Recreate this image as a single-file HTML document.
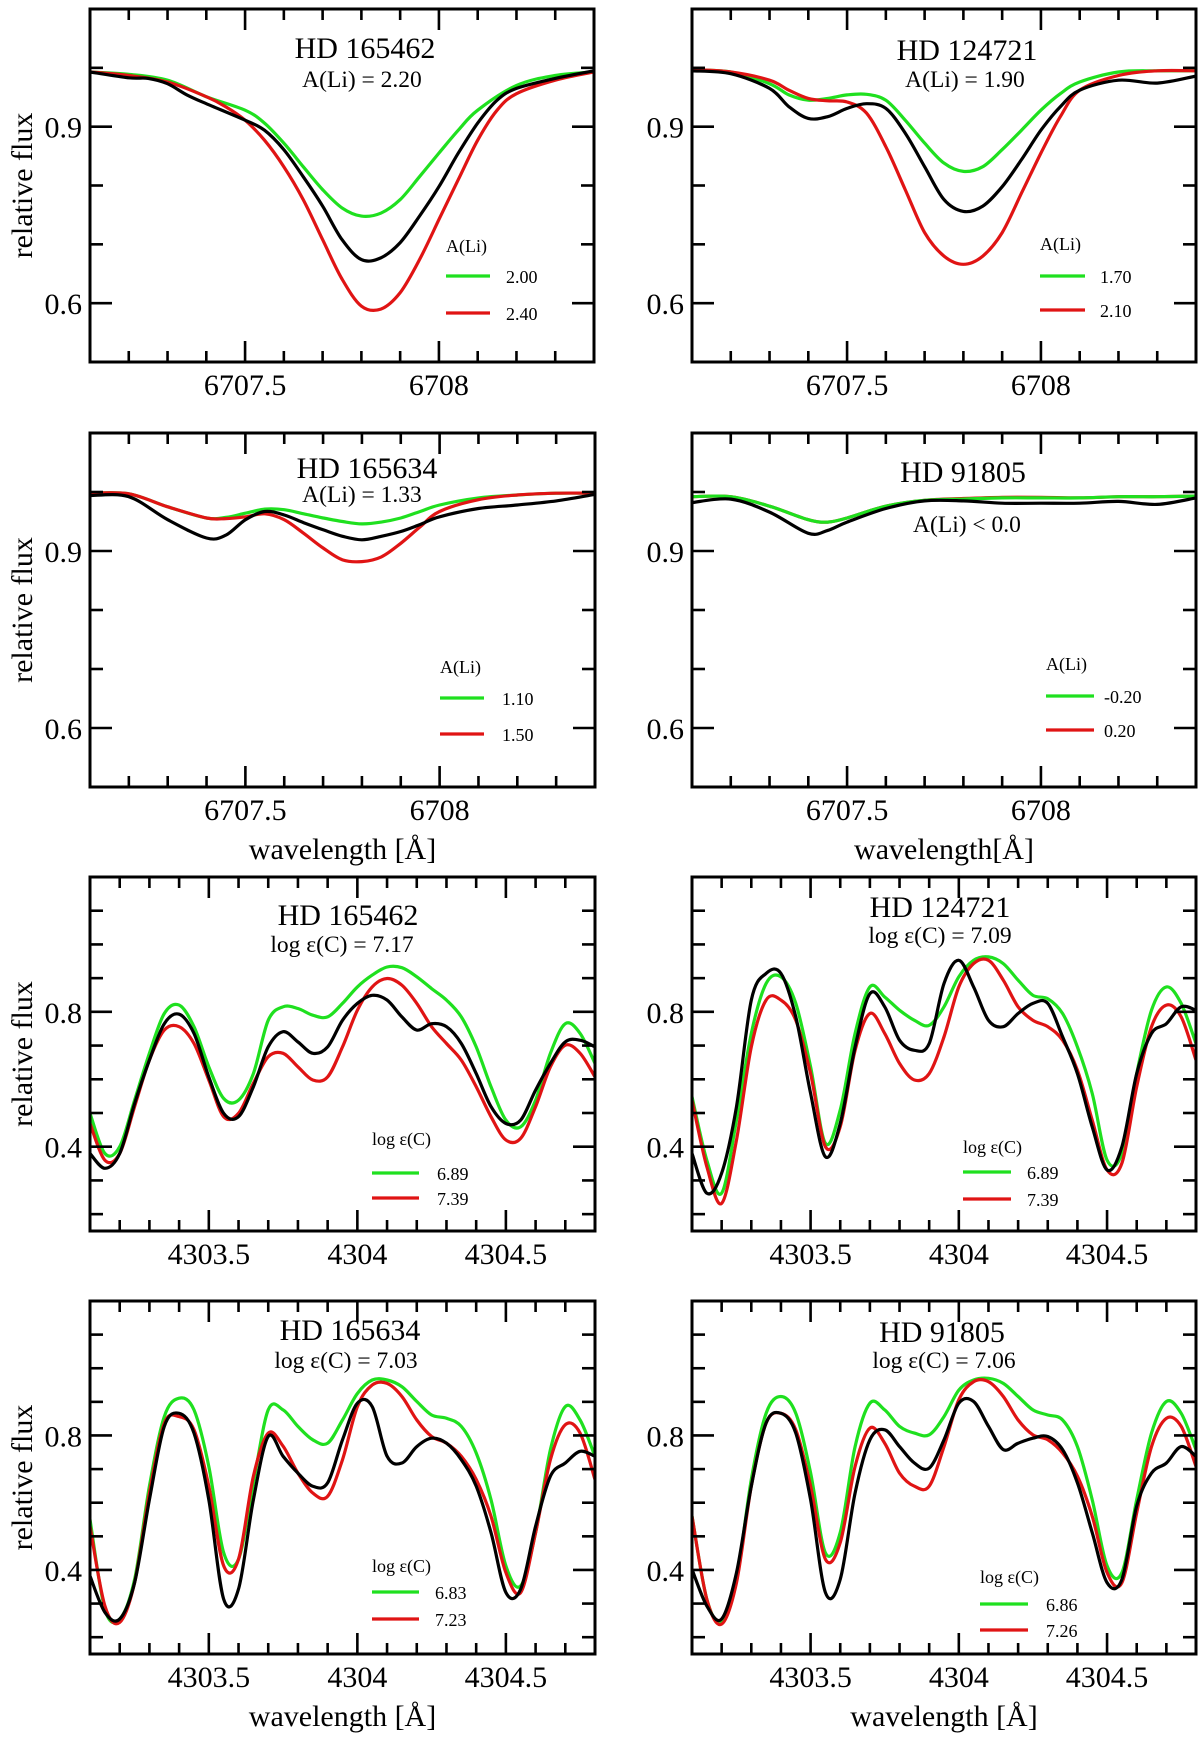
<!DOCTYPE html>
<html><head><meta charset="utf-8">
<style>
html,body{margin:0;padding:0;background:#fff;}
svg{display:block;font-family:"Liberation Serif","DejaVu Serif",serif;}
</style></head>
<body>
<svg id="fig" width="1200" height="1739" viewBox="0 0 1200 1739" xmlns="http://www.w3.org/2000/svg"></svg>
<script>
// ---------- data ----------
const liTicksMajor = [6707.5, 6708];
const liTickLabels = ["6707.5", "6708"];
const liYMajor = [0.6, 0.9];
const liYLabels = ["0.6", "0.9"];
const cTicksMajor = [4303.5, 4304, 4304.5];
const cTickLabels = ["4303.5", "4304", "4304.5"];
const cYMajor = [0.4, 0.8];
const cYLabels = ["0.4", "0.8"];

// Panel 1 HD 165462 Li
const p1gx = [6707.1,6707.2,6707.3,6707.4,6707.5,6707.55,6707.6,6707.65,6707.7,6707.75,6707.8,6707.85,6707.9,6707.95,6708,6708.05,6708.1,6708.2,6708.3,6708.4];
const p1gy = [0.993,0.989,0.979,0.951,0.928,0.906,0.872,0.832,0.793,0.762,0.748,0.753,0.776,0.815,0.855,0.894,0.928,0.970,0.987,0.993];
const p1bx = [6707.1,6707.2,6707.25,6707.3,6707.35,6707.4,6707.5,6707.55,6707.6,6707.65,6707.7,6707.75,6707.8,6707.85,6707.9,6707.95,6708,6708.05,6708.1,6708.15,6708.2,6708.3,6708.4];
const p1by = [0.993,0.983,0.982,0.973,0.954,0.939,0.911,0.894,0.861,0.815,0.765,0.708,0.674,0.677,0.703,0.748,0.798,0.855,0.906,0.945,0.965,0.982,0.995];
const p1rx = [6707.1,6707.2,6707.3,6707.4,6707.45,6707.5,6707.55,6707.6,6707.65,6707.7,6707.75,6707.8,6707.85,6707.9,6707.95,6708,6708.05,6708.1,6708.15,6708.2,6708.3,6708.4];
const p1ry = [0.993,0.987,0.976,0.951,0.934,0.911,0.877,0.832,0.776,0.708,0.641,0.595,0.590,0.618,0.674,0.742,0.810,0.877,0.928,0.956,0.979,0.993];
// Panel 2 HD 124721 Li
const p2x = [6707.1,6707.2,6707.3,6707.35,6707.4,6707.45,6707.5,6707.55,6707.6,6707.65,6707.7,6707.75,6707.8,6707.85,6707.9,6707.95,6708,6708.05,6708.1,6708.2,6708.3,6708.4];
const p2gy = [0.996,0.993,0.973,0.954,0.945,0.948,0.954,0.955,0.945,0.911,0.872,0.838,0.824,0.832,0.861,0.894,0.928,0.956,0.976,0.993,0.995,0.995];
const p2by = [0.995,0.990,0.965,0.934,0.914,0.917,0.931,0.939,0.931,0.889,0.832,0.776,0.756,0.765,0.798,0.844,0.894,0.934,0.962,0.979,0.974,0.986];
const p2ry = [0.997,0.993,0.979,0.962,0.948,0.944,0.942,0.923,0.866,0.793,0.720,0.680,0.666,0.680,0.720,0.787,0.855,0.917,0.962,0.987,0.995,0.995];
// Panel 3 HD 165634 Li
const p3x = [6707.1,6707.2,6707.3,6707.4,6707.45,6707.5,6707.55,6707.6,6707.65,6707.7,6707.75,6707.8,6707.85,6707.9,6707.95,6708,6708.1,6708.2,6708.3,6708.4];
const p3gy = [0.998,0.997,0.975,0.956,0.957,0.964,0.971,0.970,0.963,0.956,0.950,0.946,0.949,0.956,0.967,0.978,0.990,0.995,0.998,0.998];
const p3by = [0.994,0.992,0.953,0.922,0.927,0.953,0.967,0.961,0.948,0.936,0.925,0.919,0.925,0.933,0.945,0.958,0.972,0.978,0.985,0.996];
const p3ry = [0.998,0.997,0.975,0.956,0.955,0.958,0.963,0.953,0.930,0.905,0.885,0.882,0.890,0.913,0.941,0.967,0.987,0.995,0.998,0.998];
// Panel 4 HD 91805 Li
const p4x = [6707.1,6707.2,6707.3,6707.4,6707.45,6707.5,6707.6,6707.7,6707.8,6707.9,6708,6708.1,6708.2,6708.3,6708.4];
const p4gy = [0.992,0.992,0.976,0.953,0.949,0.956,0.976,0.986,0.988,0.990,0.990,0.990,0.992,0.992,0.993];
const p4ry = [0.992,0.992,0.976,0.953,0.949,0.956,0.976,0.986,0.989,0.991,0.991,0.990,0.992,0.992,0.993];
const p4by = [0.982,0.988,0.966,0.930,0.935,0.949,0.972,0.985,0.985,0.981,0.981,0.981,0.984,0.979,0.990];

// Carbon panels: common wavelength grid
const cx = [4303.10,4303.15,4303.20,4303.25,4303.30,4303.35,4303.40,4303.45,4303.50,4303.55,4303.60,4303.65,4303.70,4303.75,4303.80,4303.85,4303.90,4303.95,4304.00,4304.05,4304.10,4304.15,4304.20,4304.25,4304.30,4304.35,4304.40,4304.45,4304.50,4304.55,4304.60,4304.65,4304.70,4304.75,4304.80];
// Panel 5 HD 165462
const p5gy = [0.499,0.380,0.400,0.538,0.677,0.795,0.820,0.756,0.637,0.543,0.538,0.617,0.775,0.815,0.810,0.790,0.785,0.825,0.874,0.909,0.933,0.931,0.904,0.869,0.835,0.785,0.696,0.578,0.479,0.459,0.538,0.677,0.765,0.736,0.647];
const p5by = [0.380,0.336,0.380,0.528,0.657,0.765,0.793,0.736,0.607,0.499,0.489,0.578,0.696,0.741,0.711,0.677,0.696,0.775,0.825,0.849,0.835,0.785,0.746,0.765,0.756,0.706,0.617,0.519,0.469,0.479,0.568,0.647,0.711,0.716,0.696];
const p5ry = [0.469,0.360,0.380,0.519,0.657,0.746,0.756,0.706,0.598,0.489,0.499,0.588,0.667,0.677,0.637,0.598,0.607,0.696,0.805,0.874,0.899,0.879,0.825,0.756,0.706,0.657,0.578,0.489,0.420,0.425,0.519,0.637,0.701,0.677,0.607];
// Panel 6 HD 124721
const p6gy = [0.548,0.360,0.262,0.479,0.736,0.884,0.904,0.825,0.637,0.410,0.509,0.736,0.874,0.844,0.805,0.775,0.760,0.815,0.904,0.953,0.963,0.943,0.894,0.849,0.839,0.795,0.696,0.558,0.360,0.380,0.617,0.805,0.874,0.825,0.706];
const p6by = [0.380,0.262,0.321,0.519,0.835,0.914,0.914,0.785,0.558,0.370,0.469,0.696,0.854,0.815,0.716,0.686,0.706,0.884,0.953,0.874,0.775,0.756,0.795,0.825,0.825,0.726,0.617,0.459,0.331,0.400,0.617,0.736,0.765,0.815,0.805];
const p6ry = [0.538,0.341,0.232,0.420,0.696,0.835,0.835,0.775,0.617,0.400,0.459,0.686,0.795,0.736,0.647,0.598,0.617,0.726,0.874,0.943,0.953,0.894,0.815,0.775,0.756,0.716,0.627,0.479,0.331,0.351,0.578,0.756,0.820,0.785,0.657];
// Panel 7 HD 165634
const p7gy = [0.550,0.283,0.254,0.372,0.649,0.856,0.911,0.876,0.708,0.451,0.432,0.659,0.876,0.876,0.827,0.787,0.777,0.846,0.925,0.965,0.965,0.945,0.901,0.861,0.851,0.827,0.748,0.609,0.412,0.353,0.511,0.758,0.886,0.846,0.738];
const p7by = [0.382,0.274,0.254,0.362,0.609,0.827,0.866,0.807,0.609,0.313,0.343,0.609,0.797,0.738,0.688,0.649,0.659,0.787,0.896,0.886,0.738,0.718,0.767,0.792,0.777,0.728,0.649,0.511,0.333,0.343,0.530,0.679,0.718,0.753,0.738];
const p7ry = [0.530,0.293,0.244,0.362,0.629,0.836,0.856,0.817,0.649,0.412,0.432,0.679,0.807,0.768,0.688,0.629,0.619,0.728,0.886,0.950,0.955,0.916,0.846,0.797,0.777,0.738,0.669,0.560,0.392,0.333,0.511,0.728,0.832,0.807,0.669];
// Panel 8 HD 91805
const p8gy = [0.560,0.313,0.244,0.372,0.669,0.866,0.916,0.866,0.689,0.451,0.511,0.767,0.896,0.876,0.827,0.807,0.802,0.856,0.935,0.965,0.970,0.955,0.916,0.876,0.861,0.846,0.767,0.609,0.412,0.392,0.609,0.807,0.901,0.866,0.758];
const p8by = [0.402,0.293,0.254,0.392,0.649,0.837,0.866,0.807,0.609,0.333,0.372,0.629,0.787,0.817,0.767,0.718,0.703,0.787,0.896,0.901,0.827,0.758,0.777,0.792,0.797,0.758,0.659,0.511,0.362,0.372,0.590,0.688,0.718,0.767,0.738];
const p8ry = [0.560,0.313,0.239,0.362,0.649,0.837,0.866,0.817,0.649,0.432,0.481,0.708,0.822,0.777,0.688,0.649,0.649,0.767,0.906,0.960,0.960,0.916,0.846,0.802,0.787,0.748,0.679,0.560,0.392,0.362,0.570,0.767,0.851,0.827,0.708];

// ---------- rendering ----------
const NS = "http://www.w3.org/2000/svg";
const svg = document.getElementById("fig");
const GREEN = "#1fe01f", RED = "#e01414", BLACK = "#000";

function mk(tag, attrs, parent) {
  const e = document.createElementNS(NS, tag);
  for (const k in attrs) e.setAttribute(k, attrs[k]);
  (parent || svg).appendChild(e);
  return e;
}
function txt(s, x, y, size, anchor, parent) {
  const t = mk("text", {x: x, y: y, "font-size": size, "text-anchor": anchor || "middle", fill: "#000"}, parent);
  t.textContent = s;
  return t;
}
function smoothPath(pts) {
  let d = "M" + pts[0][0].toFixed(1) + "," + pts[0][1].toFixed(1);
  for (let i = 0; i < pts.length - 1; i++) {
    const p0 = pts[i - 1] || pts[i], p1 = pts[i], p2 = pts[i + 1], p3 = pts[i + 2] || p2;
    const c1x = p1[0] + (p2[0] - p0[0]) / 6, c1y = p1[1] + (p2[1] - p0[1]) / 6;
    const c2x = p2[0] - (p3[0] - p1[0]) / 6, c2y = p2[1] - (p3[1] - p1[1]) / 6;
    d += " C" + c1x.toFixed(1) + "," + c1y.toFixed(1) + " " + c2x.toFixed(1) + "," + c2y.toFixed(1) + " " + p2[0].toFixed(1) + "," + p2[1].toFixed(1);
  }
  return d;
}

const LI = {x0: 6707.1, x1: 6708.4, y0: 0.5, y1: 1.1, xMinor: 0.1, yMinor: 0.1, xMaj: liTicksMajor, xLab: liTickLabels, yMaj: liYMajor, yLab: liYLabels};
const CC = {x0: 4303.1, x1: 4304.8, y0: 0.15, y1: 1.2, xMinor: 0.1, yMinor: 0.1, xMaj: cTicksMajor, xLab: cTickLabels, yMaj: cYMajor, yLab: cYLabels};

const panels = [
  {id: "hd165462-li", ax: LI, l: 90, r: 594, t: 9, b: 362, yTitle: true, xTitle: null,
   title: "HD 165462", tx: 365, ty: 58, sub: "A(Li) = 2.20", sx: 362, sy: 87,
   leg: {title: "A(Li)", x: 446, ty: 252, gy: 276, ry: 313, lx2: 490, tx: 506, g: "2.00", r: "2.40"},
   series: [[p1gx, p1gy, GREEN, "model-green"], [p1rx, p1ry, RED, "model-red"], [p1bx, p1by, BLACK, "observed"]]},
  {id: "hd124721-li", ax: LI, l: 692, r: 1196, t: 9, b: 362, yTitle: false, xTitle: null,
   title: "HD 124721", tx: 967, ty: 60, sub: "A(Li) = 1.90", sx: 965, sy: 87,
   leg: {title: "A(Li)", x: 1040, ty: 250, gy: 276, ry: 310, lx2: 1085, tx: 1100, g: "1.70", r: "2.10"},
   series: [[p2x, p2gy, GREEN, "model-green"], [p2x, p2ry, RED, "model-red"], [p2x, p2by, BLACK, "observed"]]},
  {id: "hd165634-li", ax: LI, l: 90, r: 595, t: 433, b: 787, yTitle: true, xTitle: "wavelength [Å]",
   title: "HD 165634", tx: 367, ty: 478, sub: "A(Li) = 1.33", sx: 362, sy: 502,
   leg: {title: "A(Li)", x: 440, ty: 673, gy: 698, ry: 734, lx2: 484, tx: 502, g: "1.10", r: "1.50"},
   series: [[p3x, p3gy, GREEN, "model-green"], [p3x, p3ry, RED, "model-red"], [p3x, p3by, BLACK, "observed"]]},
  {id: "hd91805-li", ax: LI, l: 692, r: 1196, t: 433, b: 787, yTitle: false, xTitle: "wavelength[Å]",
   title: "HD 91805", tx: 963, ty: 482, sub: "A(Li) < 0.0", sx: 967, sy: 532,
   leg: {title: "A(Li)", x: 1046, ty: 670, gy: 696, ry: 730, lx2: 1094, tx: 1104, g: "-0.20", r: "0.20"},
   series: [[p4x, p4ry, RED, "model-red"], [p4x, p4gy, GREEN, "model-green"], [p4x, p4by, BLACK, "observed"]]},
  {id: "hd165462-c", ax: CC, l: 90, r: 595, t: 877, b: 1231, yTitle: true, xTitle: null,
   title: "HD 165462", tx: 348, ty: 925, sub: "log ε(C) = 7.17", sx: 342, sy: 952,
   leg: {title: "log ε(C)", x: 372, ty: 1145, gy: 1173, ry: 1198, lx2: 419, tx: 437, g: "6.89", r: "7.39"},
   series: [[cx, p5gy, GREEN, "model-green"], [cx, p5ry, RED, "model-red"], [cx, p5by, BLACK, "observed"]]},
  {id: "hd124721-c", ax: CC, l: 692, r: 1196, t: 877, b: 1231, yTitle: false, xTitle: null,
   title: "HD 124721", tx: 940, ty: 917, sub: "log ε(C) = 7.09", sx: 940, sy: 943,
   leg: {title: "log ε(C)", x: 963, ty: 1153, gy: 1172, ry: 1199, lx2: 1011, tx: 1027, g: "6.89", r: "7.39"},
   series: [[cx, p6gy, GREEN, "model-green"], [cx, p6ry, RED, "model-red"], [cx, p6by, BLACK, "observed"]]},
  {id: "hd165634-c", ax: CC, l: 90, r: 595, t: 1301, b: 1654, yTitle: true, xTitle: "wavelength [Å]",
   title: "HD 165634", tx: 350, ty: 1340, sub: "log ε(C) = 7.03", sx: 346, sy: 1368,
   leg: {title: "log ε(C)", x: 372, ty: 1572, gy: 1592, ry: 1619, lx2: 419, tx: 435, g: "6.83", r: "7.23"},
   series: [[cx, p7gy, GREEN, "model-green"], [cx, p7ry, RED, "model-red"], [cx, p7by, BLACK, "observed"]]},
  {id: "hd91805-c", ax: CC, l: 692, r: 1196, t: 1301, b: 1654, yTitle: false, xTitle: "wavelength [Å]",
   title: "HD 91805", tx: 942, ty: 1342, sub: "log ε(C) = 7.06", sx: 944, sy: 1368,
   leg: {title: "log ε(C)", x: 980, ty: 1583, gy: 1604, ry: 1630, lx2: 1028, tx: 1046, g: "6.86", r: "7.26"},
   series: [[cx, p8gy, GREEN, "model-green"], [cx, p8ry, RED, "model-red"], [cx, p8by, BLACK, "observed"]]}
];

panels.forEach(function (p) {
  const a = p.ax;
  const g = mk("g", {});
  
  
  const X = v => p.l + (v - a.x0) / (a.x1 - a.x0) * (p.r - p.l);
  const Y = v => p.b - (v - a.y0) / (a.y1 - a.y0) * (p.b - p.t);

  const clipId = "clip-" + p.id;
  const cp = mk("clipPath", {id: clipId}, g);
  mk("rect", {x: p.l, y: p.t, width: p.r - p.l, height: p.b - p.t}, cp);

  const sg = mk("g", {"clip-path": "url(#" + clipId + ")"}, g);
  p.series.forEach(function (s) {
    const pts = s[0].map((xv, i) => [X(xv), Y(s[1][i])]);
    const path = mk("path", {d: smoothPath(pts), fill: "none", stroke: s[2], "stroke-width": 3.2, "stroke-linejoin": "round"}, sg);
    
    
  });

  const tg = mk("g", {stroke: "#000", "stroke-width": 2.6}, g);
  
  
  const nx = Math.round((a.x1 - a.x0) / a.xMinor);
  for (let i = 1; i < nx; i++) {
    const v = a.x0 + i * a.xMinor;
    const maj = a.xMaj.some(m => Math.abs(m - v) < 1e-6);
    const L = maj ? 21 : 11, x = X(v);
    mk("line", {x1: x, y1: p.b, x2: x, y2: p.b - L}, tg);
    mk("line", {x1: x, y1: p.t, x2: x, y2: p.t + L}, tg);
  }
  const ny = Math.round((a.y1 - a.y0) / a.yMinor);
  for (let i = 0; i <= ny; i++) {
    const v = Math.round((a.y0 + 0.05 + i * a.yMinor) * 100) / 100;
    const vv = (a.y0 === 0.15) ? v : Math.round((a.y0 + i * a.yMinor) * 100) / 100;
    if (vv <= a.y0 + 1e-6 || vv >= a.y1 - 1e-6) continue;
    const maj = a.yMaj.some(m => Math.abs(m - vv) < 1e-6);
    const L = maj ? 22 : 13, y = Y(vv);
    mk("line", {x1: p.l, y1: y, x2: p.l + L, y2: y}, tg);
    mk("line", {x1: p.r, y1: y, x2: p.r - L, y2: y}, tg);
  }
  const fr = mk("rect", {x: p.l, y: p.t, width: p.r - p.l, height: p.b - p.t, fill: "none", stroke: "#000", "stroke-width": 3}, g);
  
  

  a.xMaj.forEach(function (m, i) {
    const t = txt(a.xLab[i], X(m), p.b + 33, 30, "middle", g);
    
    
  });
  a.yMaj.forEach(function (m, i) {
    const t = txt(a.yLab[i], p.l - 8, Y(m) + 11, 30, "end", g);
    
    
  });

  if (p.yTitle) {
    const cyv = (p.t + p.b) / 2;
    const t = mk("text", {x: 0, y: 0, "font-size": 30, "text-anchor": "middle", transform: "translate(32," + cyv + ") rotate(-90)"}, g);
    t.textContent = "relative flux";
    
    
  }
  if (p.xTitle) {
    const t = txt(p.xTitle, (p.l + p.r) / 2, p.b + 72, 30, "middle", g);
    
    
  }

  const t1 = txt(p.title, p.tx, p.ty, 30, "middle", g);
  
  
  const t2 = txt(p.sub, p.sx, p.sy, 23.5, "middle", g);
  
  

  const lg = mk("g", {}, g);
  
  
  const lt = txt(p.leg.title, p.leg.x, p.leg.ty, 18, "start", lg);
  
  
  [[p.leg.gy, GREEN, p.leg.g], [p.leg.ry, RED, p.leg.r]].forEach(function (e) {
    const ln = mk("line", {x1: p.leg.x, y1: e[0], x2: p.leg.lx2, y2: e[0], stroke: e[1], "stroke-width": 3.2}, lg);
    
    
    const tt = txt(e[2], p.leg.tx, e[0] + 7, 18, "start", lg);
    
    
  });
});
</script>
</body></html>
